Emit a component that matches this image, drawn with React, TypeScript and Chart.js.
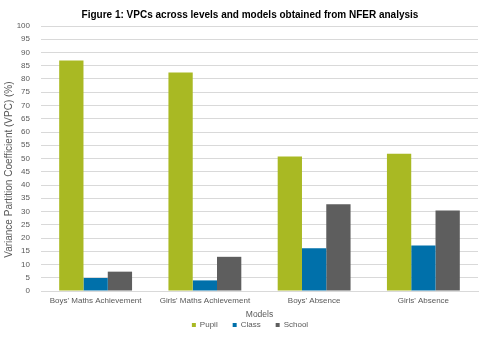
import React, { useEffect, useRef } from "react";
import { Chart, registerables } from "chart.js";

Chart.register(...registerables);

const categories = ["Boys' Maths Achievement", "Girls' Maths Achievement", "Boys' Absence", "Girls' Absence"];
const pupil = [87, 82.5, 50.8, 51.8];
const classLevel = [4.9, 4.0, 16.1, 17.2];
const school = [7.3, 12.9, 32.7, 30.4];
const seriesNames = ["Pupil", "Class", "School"];
const chartTitle = "Figure 1: VPCs across levels and models obtained from NFER analysis";
const yTitle = "Variance Partition Coefficient (VPC) (%)";
const xTitle = "Models";

const FONT = "'Liberation Sans', Arial, sans-serif";
const GREY = "#595959";

export default function App() {
  const ref = useRef<HTMLCanvasElement | null>(null);
  useEffect(() => {
    document.body.style.margin = "0";
    const ctx = ref.current!.getContext("2d")!;
    const chart = new Chart(ctx, {
      type: "bar",
      data: {
        labels: categories,
        datasets: [
          { label: seriesNames[0], data: pupil, backgroundColor: "#A9B923" },
          { label: seriesNames[1], data: classLevel, backgroundColor: "#0070AA" },
          { label: seriesNames[2], data: school, backgroundColor: "#5E5E5E" },
        ],
      },
      options: {
        animation: false,
        responsive: false,
        devicePixelRatio: 1,
        layout: { padding: { top: 0, right: 0, bottom: 5, left: 0 } },
        datasets: { bar: { categoryPercentage: 0.667, barPercentage: 1.0 } },
        plugins: {
          title: {
            display: true,
            text: chartTitle,
            color: "#000000",
            font: { family: FONT, size: 10, weight: "bold" },
            padding: { top: 9, bottom: 5 },
          },
          legend: {
            position: "bottom",
            labels: {
              color: GREY,
              font: { family: FONT, size: 8 },
              boxWidth: 4,
              boxHeight: 4,
              padding: 15,
            },
          },
          tooltip: { enabled: false },
        },
        scales: {
          x: {
            grid: { display: false, drawTicks: false },
            border: { display: true, color: "#D9D9D9" },
            ticks: { color: GREY, font: { family: FONT, size: 8 }, padding: 5, maxRotation: 0, autoSkip: false },
            title: { display: true, text: xTitle, color: GREY, font: { family: FONT, size: 8.5 }, padding: { top: 0, bottom: -13.6 } },
            afterFit: (s: any) => { s.height = 15; },
          },
          y: {
            min: 0,
            max: 100,
            ticks: { stepSize: 5, color: GREY, font: { family: FONT, size: 8 }, padding: 11 },
            grid: { color: "#D9D9D9", drawTicks: false },
            border: { display: false },
            title: { display: true, text: yTitle + "        ", color: GREY, font: { family: FONT, size: 10 }, padding: { top: 3, bottom: 0 } },
            afterFit: (s: any) => { s.width = 41; },
          },
          yRight: {
            position: "right",
            display: true,
            min: 0,
            max: 1,
            ticks: { display: false },
            grid: { display: false, drawTicks: false },
            border: { display: false },
            afterFit: (s: any) => { s.width = 22; },
          },
        },
      },
    });
    return () => chart.destroy();
  }, []);
  return (
    <div style={{ width: 500, height: 344 }}>
      <canvas ref={ref} width={500} height={344} style={{ display: "block" }} />
    </div>
  );
}
